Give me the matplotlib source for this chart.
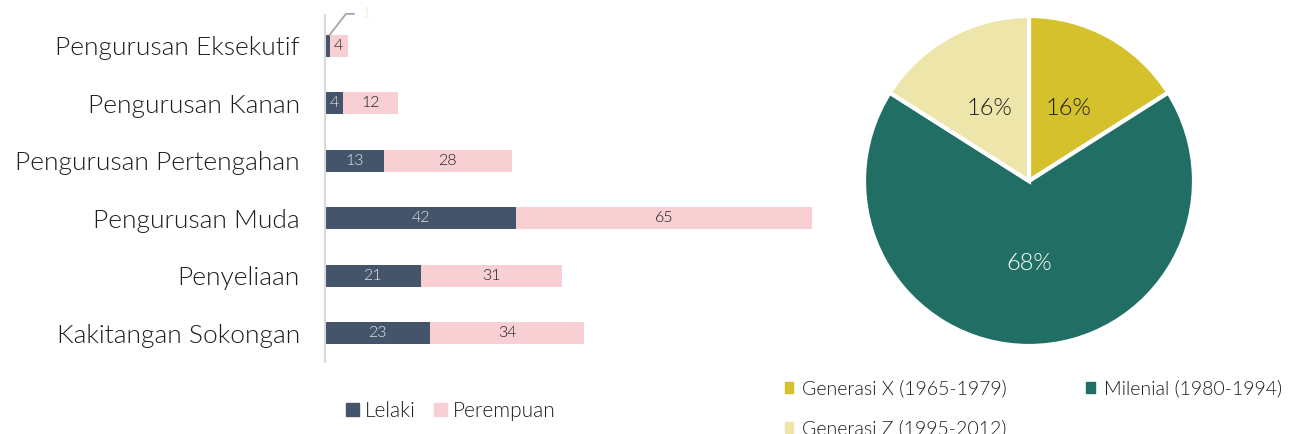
import matplotlib
matplotlib.use("Agg")
import matplotlib.pyplot as plt
from matplotlib.patches import Patch

plt.rcParams['font.family'] = ['Lato', 'DejaVu Sans']
plt.rcParams['font.weight'] = 300

# Bar chart data
categories = ["Pengurusan Eksekutif", "Pengurusan Kanan", "Pengurusan Pertengahan",
              "Pengurusan Muda", "Penyeliaan", "Kakitangan Sokongan"]
lelaki = [1, 4, 13, 42, 21, 23]
perempuan = [4, 12, 28, 65, 31, 34]
bar_series = ["Lelaki", "Perempuan"]

# Pie chart data
generations = ["Generasi X (1965-1979)", "Milenial (1980-1994)", "Generasi Z (1995-2012)"]
gen_share = [16, 68, 16]

C_MALE = "#44546A"
C_FEMALE = "#F8CFD2"
PIE_COLORS = ["#D5C12B", "#216F64", "#EEE5AA"]
TEXT = "#1E1E1E"

fig = plt.figure(figsize=(12.99, 4.34), dpi=100)

# ---- stacked horizontal bars ----
ax = fig.add_axes([325 / 1299, 1 - 362 / 434, 546 / 1299, 347 / 434])
ypos = list(range(len(categories)))
h = 0.385
ax.barh(ypos, lelaki, height=h, color=C_MALE, label=bar_series[0])
ax.barh(ypos, perempuan, left=lelaki, height=h, color=C_FEMALE, label=bar_series[1])
ax.set_xlim(0, 120)
ax.set_ylim(5.505, -0.54)
ax.set_yticks(ypos)
ax.set_yticklabels(categories, fontsize=19, color=TEXT)
ax.tick_params(axis='y', length=0, pad=18)
ax.set_xticks([])
for s in ["top", "right", "bottom"]:
    ax.spines[s].set_visible(False)
ax.spines["left"].set_color("#D9D9D9")
ax.spines["left"].set_linewidth(1.5)

for i, (m, f) in enumerate(zip(lelaki, perempuan)):
    if m >= 3:
        ax.text(m / 2, i, str(m), ha="center", va="center", fontsize=11.5, color="#E6E6E6")
    else:
        ax.annotate(str(m), xy=(m, i - h / 2), xytext=(7.9, -0.56),
                    textcoords="data", ha="left", va="center", fontsize=11.5,
                    color="#EFE9CF", annotation_clip=False,
                    arrowprops=dict(arrowstyle="-", color="#A6A6A6", lw=1.3,
                                    shrinkA=3, shrinkB=0, relpos=(0, 0.5),
                                    connectionstyle="angle,angleA=0,angleB=52,rad=0"))
    ax.text(m + f / 2, i, str(f), ha="center", va="center", fontsize=11.5, color=TEXT)

fig.legend(handles=[Patch(color=C_MALE, label=bar_series[0]),
                    Patch(color=C_FEMALE, label=bar_series[1])],
           loc="center", bbox_to_anchor=(451 / 1299, 1 - 411 / 434), ncol=2,
           frameon=False, fontsize=15, handlelength=0.6, handleheight=0.6,
           handletextpad=0.3, columnspacing=0.9, labelcolor=TEXT)

# ---- pie ----
pax = fig.add_axes([(1029 - 165) / 1299, 1 - (181 + 165) / 434, 330 / 1299, 330 / 434])
wedges, texts, autotexts = pax.pie(
    gen_share, colors=PIE_COLORS, startangle=90, counterclock=False,
    autopct=lambda p: f"{p:.0f}%", pctdistance=0.5, radius=1,
    wedgeprops=dict(edgecolor="white", linewidth=3))
for w in wedges:
    w.set_clip_on(False)
for i, t in enumerate(autotexts):
    t.set_fontsize(17)
    t.set_color("white" if i == 1 else TEXT)
pax.set_xlim(-1.0, 1.0)
pax.set_ylim(-1.0, 1.0)
pax.set_aspect("equal")

# legend filled column-wise: X and Z in the first column, Milenial in the second
leg_order = [0, 2, 1]
fig.legend(handles=[Patch(color=PIE_COLORS[k], label=generations[k]) for k in leg_order],
           loc="upper left", bbox_to_anchor=(767 / 1299, 1 - 362 / 434), ncol=2,
           frameon=False, fontsize=14, handlelength=0.45, handleheight=0.45,
           handletextpad=0.45, columnspacing=4.1, labelspacing=1.15, labelcolor=TEXT)

fig.savefig("out.png", dpi=100)
